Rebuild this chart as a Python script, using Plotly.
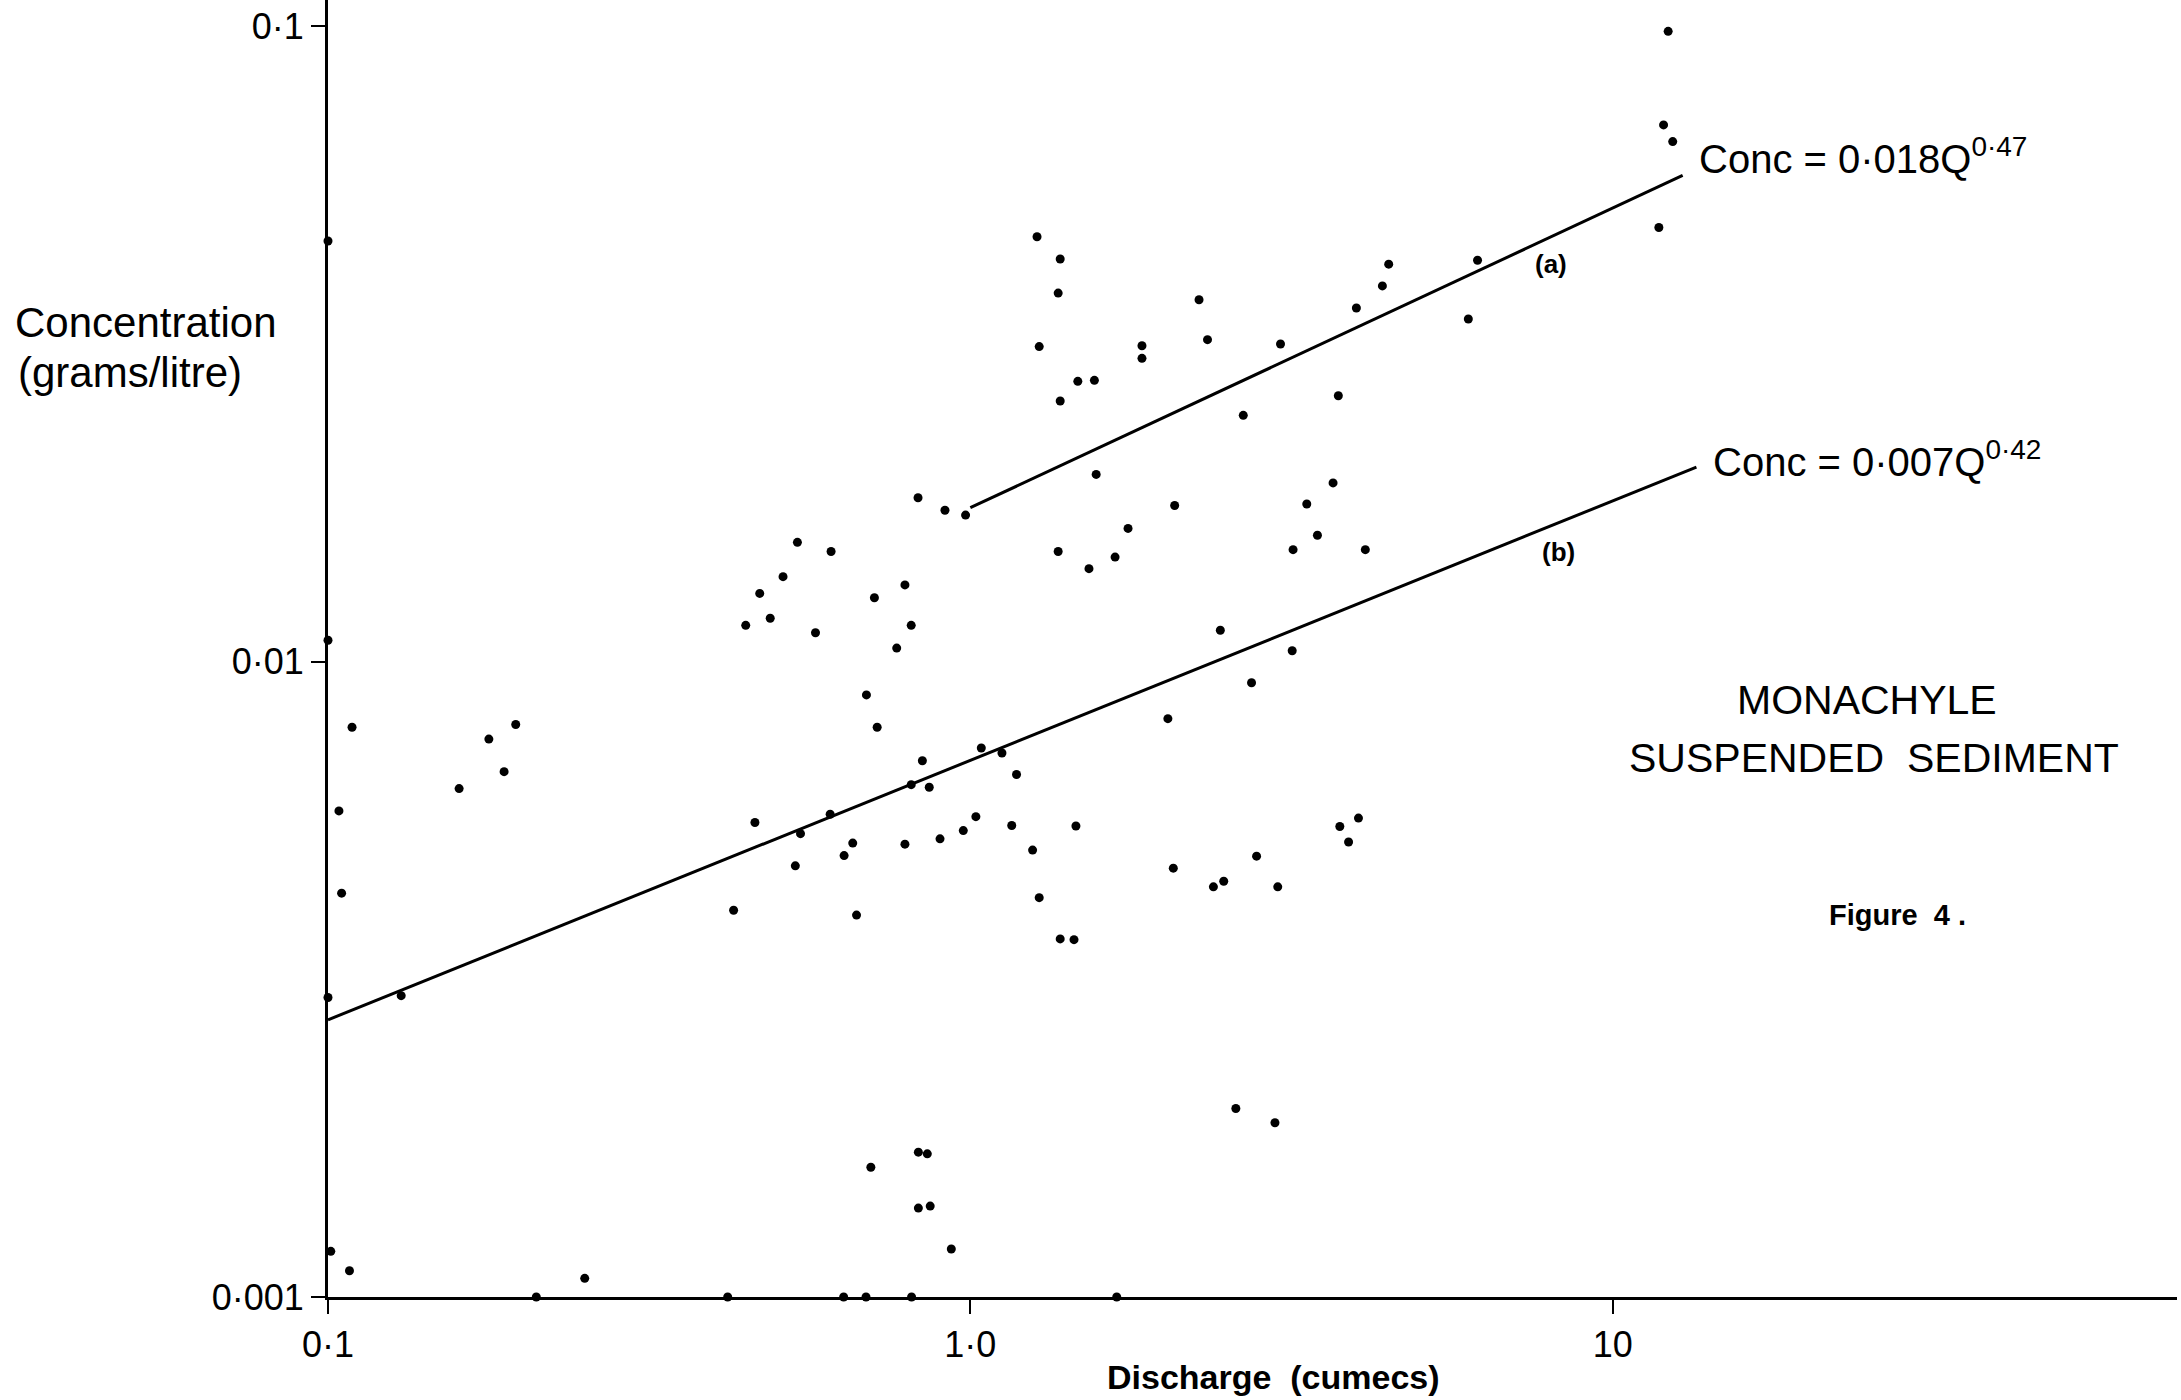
import plotly.graph_objects as go

# ---- data ----
discharge = [1.27, 1.38, 1.37, 1.28, 1.85, 1.85, 1.47, 1.56, 1.38, 1.57,
             0.829, 0.913, 0.983, 0.538, 0.607, 0.511, 0.470, 0.447, 0.488, 0.574,
             0.791, 0.709, 0.809, 0.768, 1.37, 1.53, 1.68, 1.76, 0.689,
             4.48, 4.38, 6.16, 2.27, 2.34, 3.04, 3.99, 5.96, 3.74, 2.66,
             3.67, 2.08, 3.34, 3.47, 3.18, 4.12, 2.45, 3.17, 2.74,
             0.716, 1.04, 1.12, 0.842, 1.18, 0.809, 0.863, 0.605, 0.544, 0.462,
             0.656, 0.636, 0.534, 0.791, 0.897, 0.975, 1.02, 1.16, 1.46, 1.25,
             1.28, 1.38, 1.45, 0.428, 0.665, 0.830, 0.857, 0.700,
             2.03, 4.02, 3.76, 3.88, 2.79, 2.07, 2.39, 2.48, 3.01, 2.59, 2.98,
             0.100, 0.109, 0.196, 0.178, 0.188, 0.160, 0.104, 0.105, 0.100, 0.130,
             0.830, 0.866, 0.934, 0.101, 0.108, 0.251, 0.100,
             12.2, 12.0, 12.4, 11.8,
             0.211, 0.419, 0.635, 0.688, 0.810, 1.69]
concentration = [0.0466, 0.0430, 0.0380, 0.0313, 0.0314, 0.0300, 0.0276, 0.0277, 0.0257, 0.0197,
                 0.0181, 0.0173, 0.0170, 0.0154, 0.0149, 0.0136, 0.0128, 0.0114, 0.0117, 0.0111,
                 0.0132, 0.0126, 0.0114, 0.0105, 0.0149, 0.0140, 0.0146, 0.0162, 0.00886,
                 0.0422, 0.0390, 0.0428, 0.0371, 0.0321, 0.0316, 0.0360, 0.0346, 0.0262, 0.0244,
                 0.0191, 0.0176, 0.0177, 0.0158, 0.0150, 0.0150, 0.0112, 0.0104, 0.00926,
                 0.00788, 0.00731, 0.00718, 0.00698, 0.00664, 0.00640, 0.00634, 0.00575, 0.00536, 0.00558,
                 0.00518, 0.00495, 0.00477, 0.00516, 0.00526, 0.00542, 0.00570, 0.00552, 0.00551, 0.00505,
                 0.00425, 0.00366, 0.00365, 0.00406, 0.00399, 0.00169, 0.00168, 0.00160,
                 0.00813, 0.00567, 0.00550, 0.00520, 0.00494, 0.00473, 0.00442, 0.00451, 0.00442, 0.00198, 0.00188,
                 0.0108, 0.00788, 0.00796, 0.00755, 0.00671, 0.00631, 0.00582, 0.00432, 0.00296, 0.00298,
                 0.00138, 0.00139, 0.00119, 0.00118, 0.00110, 0.00107, 0.0459,
                 0.0981, 0.0699, 0.0658, 0.0482,
                 0.001, 0.001, 0.001, 0.001, 0.001, 0.001]

# regression lines (end points)
line_a_q = [1.0, 12.85]
line_a_c = [0.01746, 0.0582]
line_b_q = [0.1, 13.5]
line_b_c = [0.00273, 0.02023]

x_tickvals = [0.1, 1, 10]
x_ticktext = ["0·1", "1·0", "10"]
y_tickvals = [0.001, 0.01, 0.1]
y_ticktext = ["0·001", "0·01", "0·1"]

# ---- layout geometry ----
W_FIG, H_FIG = 2181, 1400
L, R, T, B = 328, 4, 0, 103
W = W_FIG - L - R
H = H_FIG - T - B
FONT = "Liberation Sans, Arial, Helvetica, sans-serif"


def px(X):
    return (X - L) / W


def py(Y):
    return (H_FIG - B - Y) / H


fig = go.Figure()
fig.add_trace(go.Scatter(x=line_a_q, y=line_a_c, mode="lines",
                         line=dict(color="black", width=3), showlegend=False,
                         hoverinfo="skip"))
fig.add_trace(go.Scatter(x=line_b_q, y=line_b_c, mode="lines",
                         line=dict(color="black", width=3), showlegend=False,
                         hoverinfo="skip"))
fig.add_trace(go.Scatter(x=discharge, y=concentration, mode="markers",
                         marker=dict(color="black", size=9, line=dict(width=0)),
                         cliponaxis=False, showlegend=False))

annotations = [
    dict(text="Concentration", x=px(13), y=py(322), xanchor="left", yanchor="middle", size=42, bold=False),
    dict(text="(grams/litre)", x=px(16), y=py(372), xanchor="left", yanchor="middle", size=42, bold=False),
    dict(text="Conc = 0·018Q<sup>0·47</sup>", x=px(1697), y=py(156), xanchor="left", yanchor="middle", size=40, bold=False),
    dict(text="Conc = 0·007Q<sup>0·42</sup>", x=px(1711), y=py(459), xanchor="left", yanchor="middle", size=40, bold=False),
    dict(text="(a)", x=px(1551), y=py(264), xanchor="center", yanchor="middle", size=26, bold=True),
    dict(text="(b)", x=px(1558), y=py(552), xanchor="center", yanchor="middle", size=26, bold=True),
    dict(text="MONACHYLE", x=px(1867), y=py(700), xanchor="center", yanchor="middle", size=41, bold=False),
    dict(text="SUSPENDED\u00a0 SEDIMENT", x=px(1874), y=py(758), xanchor="center", yanchor="middle", size=41, bold=False),
    dict(text="Figure\u00a0 4\u00a0.", x=px(1897), y=py(915), xanchor="center", yanchor="middle", size=29, bold=True),
    dict(text="Discharge\u00a0 (cumecs)", x=px(1273), y=py(1377), xanchor="center", yanchor="middle", size=34, bold=True),
]
for a in annotations:
    txt = "<b>" + a["text"] + "</b>" if a["bold"] else a["text"]
    fig.add_annotation(text=txt, x=a["x"], y=a["y"], xref="paper", yref="paper",
                       xanchor=a["xanchor"], yanchor=a["yanchor"], showarrow=False,
                       font=dict(family=FONT, size=a["size"], color="black"))

fig.update_layout(
    width=W_FIG, height=H_FIG,
    margin=dict(l=L, r=R, t=T, b=B, pad=0),
    paper_bgcolor="white", plot_bgcolor="white",
    font=dict(family=FONT, color="black"),
    xaxis=dict(type="log", range=[-1.0, 1.8785], showgrid=False, zeroline=False,
               showline=True, linecolor="black", linewidth=3,
               tickmode="array", tickvals=x_tickvals, ticktext=x_ticktext,
               ticks="outside", ticklen=14, tickwidth=2, tickcolor="black",
               tickfont=dict(family=FONT, size=36, color="black")),
    yaxis=dict(type="log", range=[-3.0, -0.959], showgrid=False, zeroline=False,
               showline=True, linecolor="black", linewidth=3,
               tickmode="array", tickvals=y_tickvals, ticktext=y_ticktext,
               ticks="outside", ticklen=14, tickwidth=2, tickcolor="black",
               tickfont=dict(family=FONT, size=36, color="black")),
)

fig.write_html("out.html")
